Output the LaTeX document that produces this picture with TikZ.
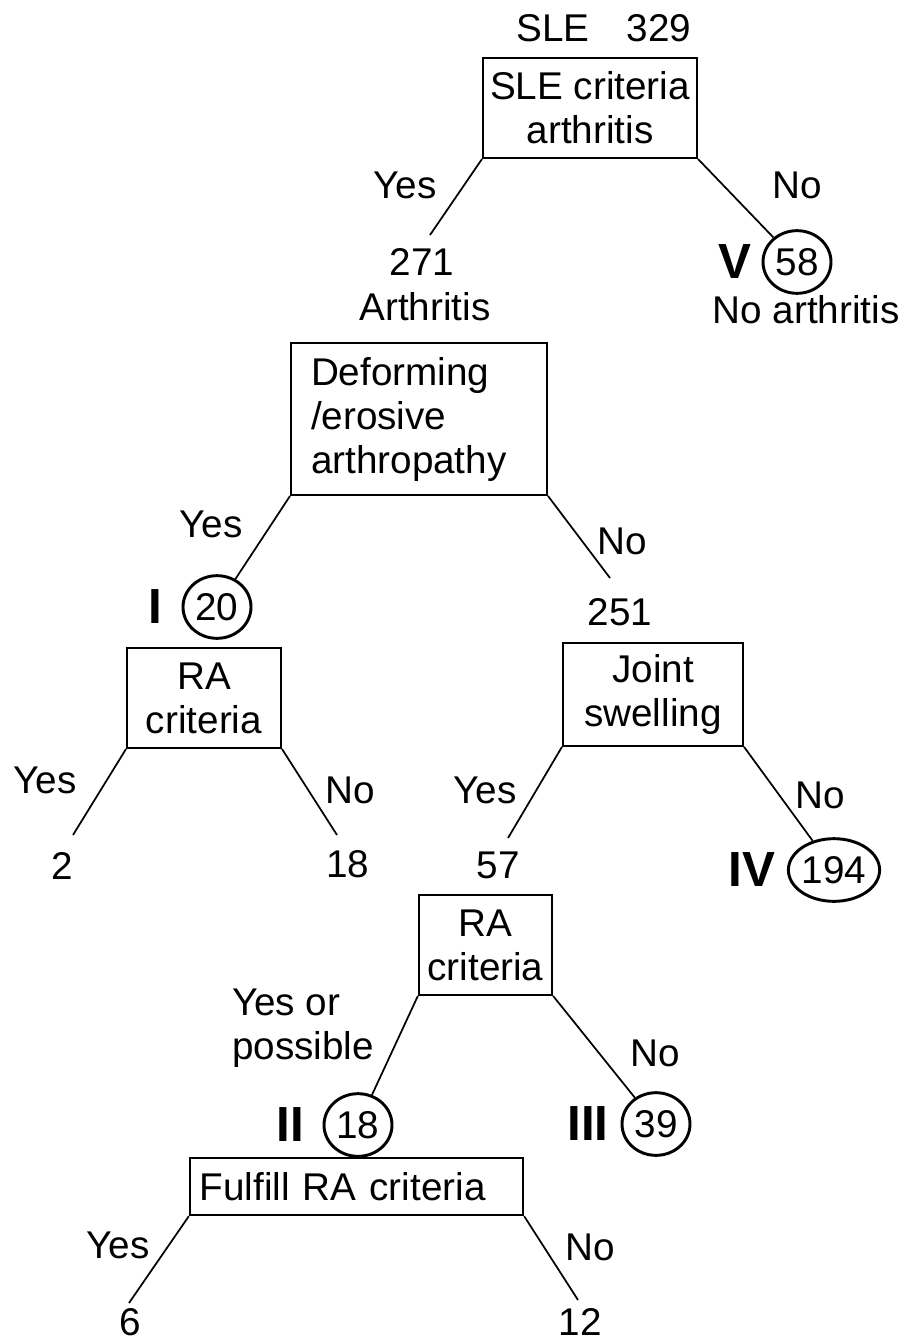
\documentclass[tikz,border=0pt]{standalone}
\usepackage{fontspec}
\setmainfont{Liberation Sans}
\usetikzlibrary{shapes.geometric}
\begin{document}
\begin{tikzpicture}[x=0.75pt,y=-0.75pt,
  font=\fontsize{29}{33}\selectfont,
  box/.style={draw, line width=1.5pt, inner sep=0pt, align=center},
  lbl/.style={inner sep=0pt},
  rom/.style={inner sep=0pt, font=\fontsize{37}{40}\selectfont\bfseries},
  cnt/.style={draw, ellipse, line width=2.2pt, inner sep=0pt, minimum width=51pt, minimum height=47pt},
  link/.style={line width=1.3pt}]
\useasboundingbox (0,0) rectangle (905,1342);

% top
\node[lbl] (sle) at (604,28) {SLE\hspace{28pt}329};
\node[box, minimum width=160.5pt, minimum height=75pt] (b1) at (590,108) {SLE criteria\\arthritis};
\node[lbl] (y1) at (405,185) {Yes};
\node[lbl] (n1) at (797,185) {No};
\coordinate (e271) at (430,235);
\node[lbl] (t271) at (422,262) {271};
\node[lbl] (arth) at (425,307) {Arthritis};
\node[cnt] (c58) at (797,262) {58};
\node[rom] (rV) at (735,262) {V};
\node[lbl] (noarth) at (806,310) {No arthritis};
\draw[link] (b1.south west) -- (e271);
\draw[link] (b1.south east) -- (c58);

% deforming
\node[box, minimum height=114pt, text width=162pt, inner xsep=15pt, align=left] (b2) at (419,419) {Deforming\\/erosive\\arthropathy};
\node[lbl] (y2) at (211,524) {Yes};
\node[lbl] (n2) at (622,541) {No};
\node[cnt] (c20) at (217,607) {20};
\node[rom] (rI) at (155,607) {I};
\coordinate (e251) at (610,578);
\node[lbl] (t251) at (620,612) {251};
\draw[link] (b2.south west) -- (c20);
\draw[link] (b2.south east) -- (e251);

% RA criteria (left)
\node[box, minimum width=115.5pt, minimum height=75pt] (b3) at (204,698) {RA\\criteria};
\node[lbl] (y3) at (45,780) {Yes};
\node[lbl] (n3) at (350,790) {No};
\coordinate (e2) at (73,835);
\coordinate (e18) at (337,835);
\node[lbl] (t2) at (62,866) {2};
\node[lbl] (t18) at (348,864) {18};
\draw[link] (b3.south west) -- (e2);
\draw[link] (b3.south east) -- (e18);

% joint swelling
\node[box, minimum width=135pt, minimum height=77pt] (b4) at (653,694.5) {Joint\\swelling};
\node[lbl] (y4) at (485,790) {Yes};
\node[lbl] (n4) at (820,795) {No};
\coordinate (e57) at (508,838);
\node[lbl] (t57) at (498,865) {57};
\node[cnt, minimum width=68pt] (c194) at (834,870) {194};
\node[rom] (rIV) at (752,870) {IV};
\draw[link] (b4.south west) -- (e57);
\draw[link] (b4.south east) -- (c194);

% RA criteria (middle)
\node[box, minimum width=100pt, minimum height=75pt] (b5) at (485.5,945) {RA\\criteria};
\node[lbl, align=left] (y5) at (303,1028) {Yes or\\possible};
\node[lbl] (n5) at (655,1053) {No};
\node[cnt] (c18) at (358,1125) {18};
\node[rom] (rII) at (290,1125) {II};
\node[cnt] (c39) at (656,1124) {39};
\node[rom] (rIII) at (588,1124) {III};
\draw[link] (b5.south west) -- (c18);
\draw[link] (b5.south east) -- (c39);

% fulfill
\node[box, text width=235pt, inner xsep=7.5pt, minimum height=43pt, align=left] (b6) at (356.5,1186.5) {Fulfill RA criteria};
\node[lbl] (y6) at (118,1245) {Yes};
\node[lbl] (n6) at (590,1247) {No};
\coordinate (e6) at (129,1303);
\coordinate (e12) at (578,1300);
\node[lbl] (t6) at (130,1322) {6};
\node[lbl] (t12) at (580,1322) {12};
\draw[link] (b6.south west) -- (e6);
\draw[link] (b6.south east) -- (e12);
\end{tikzpicture}
\end{document}
